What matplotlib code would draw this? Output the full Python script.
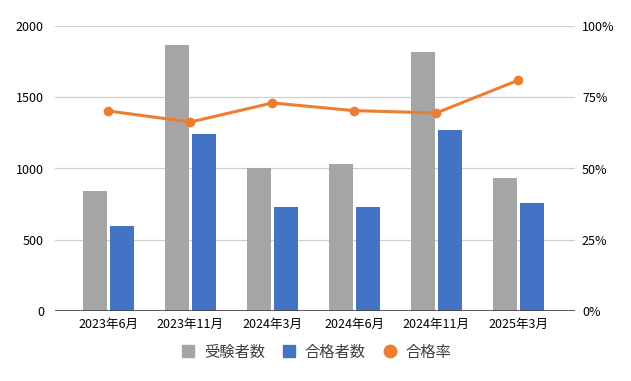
import numpy as np
import matplotlib.pyplot as plt
from matplotlib.lines import Line2D

plt.rcParams['font.family'] = ['Noto Sans CJK JP', 'DejaVu Sans']

# データ
categories = ['2023年6月', '2023年11月', '2024年3月', '2024年6月', '2024年11月', '2025年3月']
examinees = [840, 1870, 1000, 1035, 1820, 930]
passed = [595, 1240, 730, 730, 1270, 755]
pass_rate = [70.2, 66.3, 73.0, 70.3, 69.5, 81.0]

gray = '#A5A5A5'
blue = '#4472C4'
orange = '#ED7D31'

fig = plt.figure(figsize=(6.31, 3.81), dpi=100)
ax = fig.add_axes([55 / 631, 1 - 311 / 381, 520 / 631, 285 / 381])
ax2 = ax.twinx()

x = np.arange(len(categories))
w = 0.29
ax.bar(x - w / 2 - 0.02, examinees, width=w, color=gray, zorder=2)
ax.bar(x + w / 2 + 0.02, passed, width=w, color=blue, zorder=2)

ax2.plot(x, pass_rate, color=orange, linewidth=2.2, marker='o', markersize=6, zorder=3)

ax.set_xlim(-0.65, 5.69)
ax.set_ylim(0, 2000)
ax.set_yticks([0, 500, 1000, 1500, 2000])
ax2.set_ylim(0, 100)
ax2.set_yticks([0, 25, 50, 75, 100])
ax2.set_yticklabels(['0%', '25%', '50%', '75%', '100%'])

ax.set_xticks(x)
ax.set_xticklabels(categories, fontsize=9, color='black')
ax.tick_params(axis='y', labelsize=9, length=0, pad=8, labelcolor='black')
ax2.tick_params(axis='y', labelsize=9, length=0, pad=5, labelcolor='black')
ax.tick_params(axis='x', length=0, pad=5)

ax.grid(axis='y', color='#D0D0D0', linewidth=0.9, zorder=0)
ax.set_axisbelow(True)
for a in (ax, ax2):
    for s in ['top', 'left', 'right', 'bottom']:
        a.spines[s].set_visible(False)
ax.axhline(0, color='#404040', linewidth=1.2, zorder=4)

ax2.set_zorder(ax.get_zorder() + 1)
ax2.patch.set_visible(False)

handles = [
    Line2D([], [], marker='s', linestyle='none', color=gray, markersize=8.5),
    Line2D([], [], marker='s', linestyle='none', color=blue, markersize=8.5),
    Line2D([], [], marker='o', linestyle='none', color=orange, markersize=9),
]
fig.legend(handles, ['受験者数', '合格者数', '合格率'], loc='center',
           bbox_to_anchor=(316 / 631, 1 - 352 / 381), ncol=3, frameon=False,
           fontsize=11, handlelength=1.0, handletextpad=0.55, columnspacing=1.05,
           labelcolor='#404040')

plt.savefig('out.png', dpi=100)
